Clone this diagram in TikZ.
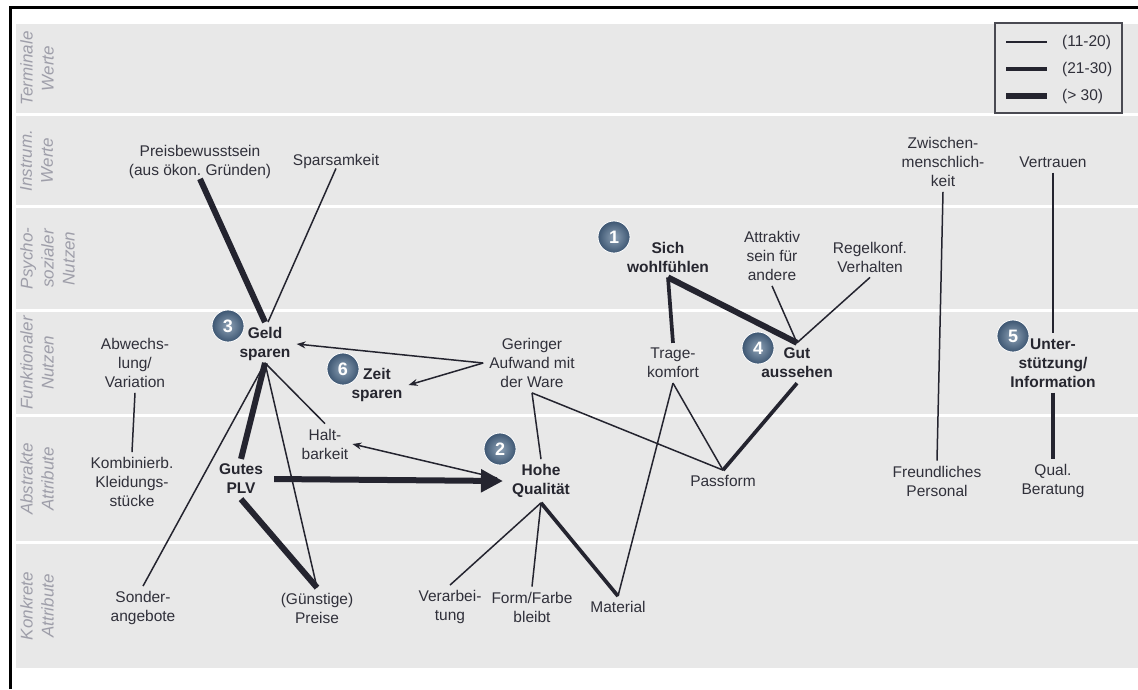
\documentclass[tikz,border=0pt]{standalone}
\usepackage{fontspec}
\setmainfont{Liberation Sans}
\usetikzlibrary{arrows.meta}
\definecolor{band}{HTML}{E8E8E8}
\definecolor{lbl}{HTML}{9E9EA9}
\definecolor{ln}{HTML}{24242F}
\definecolor{txt}{HTML}{30303A}
\definecolor{btxt}{HTML}{26262F}
\definecolor{ballin}{HTML}{8EA2B6}
\definecolor{ballout}{HTML}{3D5672}
\definecolor{legframe}{HTML}{4A4A52}
\begin{document}
\begin{tikzpicture}[x=1pt,y=-1pt,
  every node/.style={font=\fontsize{15.5}{19}\selectfont, text=txt},
  lab/.style={align=center, inner xsep=1pt, inner ysep=5pt},
  bl/.style={lab, font=\fontsize{15.5}{19}\selectfont\bfseries, text=btxt},
  side/.style={rotate=90, anchor=north, align=center, inner sep=0pt, font=\fontsize{17}{21}\selectfont\itshape, text=lbl},
  wthin/.style={draw=ln, line width=1.5pt},
  wmed/.style={draw=ln, line width=3.7pt},
  wthick/.style={draw=ln, line width=6pt},
  sarrow/.style={-{Stealth[length=9pt,width=7pt]}},
  num/.style={circle, minimum size=32pt, inner sep=0pt, draw=white, line width=0.8pt, shading=radial, inner color=ballin, outer color=ballout, text=white, font=\fontsize{18}{18}\selectfont\bfseries},
  legtext/.style={anchor=west, inner sep=0pt, text=txt}
]
\useasboundingbox (0,0) rectangle (1138,689);
\fill[white] (0,0) rectangle (1138,689);
% bands
\fill[band] (16,24) rectangle (1138,113);
\fill[band] (16,116) rectangle (1138,205);
\fill[band] (16,208) rectangle (1138,309);
\fill[band] (16,312) rectangle (1138,414);
\fill[band] (16,417) rectangle (1138,541);
\fill[band] (16,544) rectangle (1138,668);
% frame
\draw[line width=3pt, black] (10,689) -- (10,7.5) -- (1138,7.5);
% side labels
\node[side] (s1) at (20,68.5) {Terminale\\Werte};
\node[side] (s2) at (20,160.5) {Instrum.\\Werte};
\node[side] (s3) at (20,258.5) {Psycho-\\sozialer\\Nutzen};
\node[side] (s4) at (20,363) {Funktionaler\\Nutzen};
\node[side] (s5) at (20,479) {Abstrakte\\Attribute};
\node[side] (s6) at (20,606) {Konkrete\\Attribute};
% legend
\draw[legframe, fill=band, line width=1.2pt] (995,23) rectangle (1122,113);
\draw[wthin] (1006,42) -- (1047,42);
\draw[wmed] (1006,69) -- (1047,69);
\draw[wthick] (1006,96) -- (1047,96);
\node[legtext] (lg1) at (1062,42) {(11-20)};
\node[legtext] (lg2) at (1062,69) {(21-30)};
\node[legtext] (lg3) at (1062,96) {(> 30)};
% nodes
\node[lab] (pb) at (200,162) {Preisbewusstsein\\(aus ökon.\ Gründen)};
\node[lab] (spa) at (336,161) {Sparsamkeit};
\node[lab] (zw) at (943,162) {Zwischen-\\menschlich-\\keit};
\node[lab] (ver) at (1053,162) {Vertrauen};
\node[bl] (sw) at (668,257) {Sich\\wohlfühlen};
\node[lab] (att) at (772,256) {Attraktiv\\sein für\\andere};
\node[lab] (reg) at (870,257) {Regelkonf.\\Verhalten};
\node[bl] (geld) at (265,344) {Geld\\sparen};
\node[lab] (abw) at (135,363) {Abwechs-\\lung/\\Variation};
\node[bl] (zeit) at (377,385) {Zeit\\sparen};
\node[lab] (ger) at (532,363) {Geringer\\Aufwand mit\\der Ware};
\node[lab] (trag) at (673,363) {Trage-\\komfort};
\node[bl] (gut) at (797,363) {Gut\\aussehen};
\node[bl] (unt) at (1053,363) {Unter-\\stützung/\\Information};
\node[lab] (komb) at (132,482) {Kombinierb.\\Kleidungs-\\stücke};
\node[lab] (halt) at (325,444) {Halt-\\barkeit};
\node[bl] (plv) at (241,479) {Gutes\\PLV};
\node[bl] (hq) at (541,481) {Hohe\\Qualität};
\node[lab] (pass) at (723,481) {Passform};
\node[lab] (fp) at (937,481) {Freundliches\\Personal};
\node[lab] (qb) at (1053,481) {Qual.\\Beratung};
\node[lab] (sonder) at (143,608) {Sonder-\\angebote};
\node[lab] (preise) at (317,608) {(Günstige)\\Preise};
\node[lab] (verarb) at (450,607) {Verarbei-\\tung};
\node[lab] (form) at (532,607) {Form/Farbe\\bleibt};
\node[lab] (mat) at (618,607) {Material};
% numbered circles
\node[num] (n1) at (614,237) {1};
\node[num] (n2) at (500,449) {2};
\node[num] (n3) at (228,326) {3};
\node[num] (n4) at (758,348) {4};
\node[num] (n5) at (1013,336) {5};
\node[num] (n6) at (343,369) {6};
% connectors
\draw[wthick] ([yshift=5pt]pb.south) -- (geld.north);
\draw[wthin] ([yshift=5pt]spa.south) -- ([xshift=3pt]geld.north);
\draw[wthick] ([yshift=3pt]geld.south) -- (plv.north);
\draw[wthin] ([yshift=3pt]geld.south) -- (sonder.north);
\draw[wthin] ([yshift=3pt]geld.south) -- (preise.north);
\draw[wthin] ([yshift=3pt]geld.south) -- (halt.north);
\draw[wthick] (plv.south) -- (preise.north);
\draw[wthick, -{Triangle[length=22pt,width=22pt]}] ([xshift=10pt]plv.east) -- ([xshift=-8pt]hq.west);
\draw[wthin, sarrow] ([xshift=-14pt,yshift=3pt]hq.west) -- ([xshift=3pt]halt.east);
\draw[wthin, sarrow] ([xshift=-5pt]ger.west) -- ([xshift=5pt]geld.east);
\draw[wthin, sarrow] ([xshift=-5pt]ger.west) -- ([xshift=5pt]zeit.east);
\draw[wthin] (ger.south) -- (hq.north);
\draw[wthin] (ger.south) -- (pass.north);
\draw[wthin] (trag.south) -- (pass.north);
\draw[wthin] (trag.south) -- (mat.north);
\draw[wmed] (sw.south) -- (trag.north);
\draw[wthick] (sw.south) -- (gut.north);
\draw[wthin] (att.south) -- (gut.north);
\draw[wthin] (reg.south) -- (gut.north);
\draw[wmed] (gut.south) -- (pass.north);
\draw[wthin] (hq.south) -- (verarb.north);
\draw[wthin] (hq.south) -- (form.north);
\draw[wmed] (hq.south) -- (mat.north);
\draw[wthin] (abw.south) -- (komb.north);
\draw[wthin] (zw.south) -- (fp.north);
\draw[wthin] (ver.south) -- (unt.north);
\draw[wmed] (unt.south) -- (qb.north);
\end{tikzpicture}
\end{document}
